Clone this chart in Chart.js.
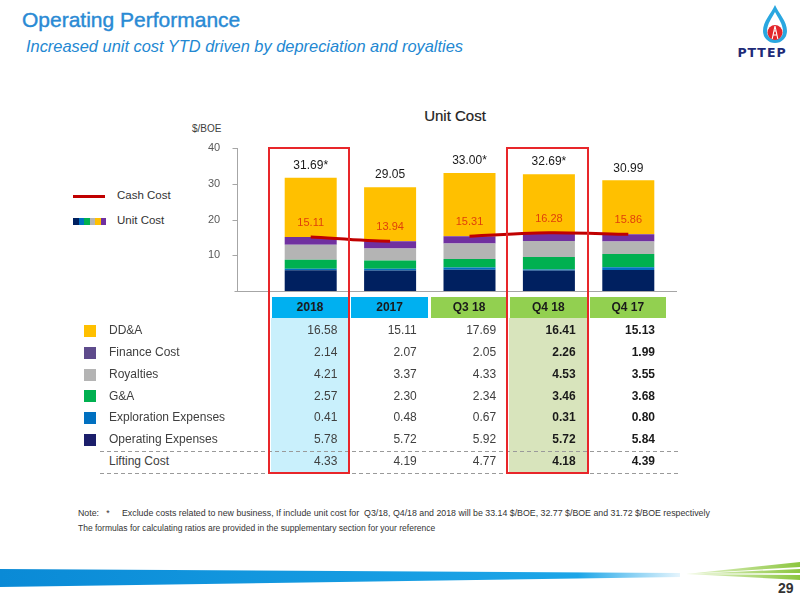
<!DOCTYPE html>
<html lang="en">
<head>
<meta charset="UTF-8">
<title>Operating Performance - Unit Cost</title>
<script src="https://cdn.jsdelivr.net/npm/chart.js"></script>
<style>
  html, body { margin: 0; padding: 0; background: #fff; }
  body { width: 800px; height: 600px; position: relative; overflow: hidden;
         font-family: "Liberation Sans", Arial, sans-serif; }
  .abs { position: absolute; }
  #title { left: 22px; top: 8px; font-size: 21px; color: #2A8AD4; -webkit-text-stroke: 0.4px #2A8AD4; white-space: nowrap; }
  #subtitle { left: 26px; top: 37px; font-size: 16.4px; font-style: italic; color: #2388D2; white-space: nowrap; }
  #brand { left: 730px; top: 45px; width: 64px; text-align: center; font-family: "DejaVu Sans", sans-serif;
           font-weight: bold; font-size: 12.5px; letter-spacing: 1px; color: #1E2A78; }
  #chartTitle { left: 380px; width: 150px; top: 107px; text-align: center; font-size: 15px; color: #222; -webkit-text-stroke: 0.2px #222; }
  #unitLabel { left: 192px; top: 123px; font-size: 10px; color: #404040; }
  #unitCostChart { position: absolute; left: 180px; top: 100px; }
  .legend-text { font-size: 11.5px; color: #333; white-space: nowrap; }
  .hdr { font-size: 12px; font-weight: bold; color: #1a1a1a; text-align: center; }
  .cell { font-size: 12px; color: #404040; text-align: right; white-space: nowrap; }
  .rowlabel { font-size: 12px; color: #404040; white-space: nowrap; }
  .dash { height: 1px; background: repeating-linear-gradient(to right, #9a9a9a 0 4px, transparent 4px 7px); }
  .redbox { border: 2px solid #E8262A; box-sizing: border-box; }
  .note { left: 78px; font-size: 8.5px; color: #333; white-space: pre; }
  #pageNo { left: 778px; top: 580px; font-size: 14px; font-weight: bold; color: #333; }
</style>
</head>
<body>
  <div id="title" class="abs">Operating Performance</div>
  <div id="subtitle" class="abs">Increased unit cost YTD driven by depreciation and royalties</div>

  <svg class="abs" style="left:730px;top:0" width="70" height="46">
    <path d="M45 5 C41 14 33 21 33 31 A12 12 0 0 0 57 31 C57 21 49 14 45 5 Z" fill="#2AA7E0"/>
    <path d="M45 12 C42 18 37 24 37 31.5 A8 8 0 0 0 53 31.5 C53 24 48 18 45 12 Z" fill="#fff"/>
    <circle cx="45" cy="32.5" r="7.5" fill="#E3262B"/>
    <path d="M42.2 39 L45 26 L47.8 39 M43.2 35 H46.8 M43.9 31 H46.1" stroke="#fff" stroke-width="1.1" fill="none"/>
  </svg>
  <div id="brand" class="abs">PTTEP</div>

  <div id="chartTitle" class="abs">Unit Cost</div>
  <div id="unitLabel" class="abs">$/BOE</div>

  <div class="abs" style="left:73px;top:195px;width:32px;height:3px;background:#C00000"></div>
  <div class="abs legend-text" style="left:117px;top:189px">Cash Cost</div>
  <div id="unitSwatch" class="abs" style="left:73px;top:218px;height:7px;display:flex"></div>
  <div class="abs legend-text" style="left:117px;top:214px">Unit Cost</div>

  <canvas id="unitCostChart" width="510" height="200"></canvas>
  <div id="table"></div>

  <div class="abs note" style="top:508px;font-size:8.8px">Note:   *     Exclude costs related to new business, If include unit cost for  Q3/18, Q4/18 and 2018 will be 33.14 $/BOE, 32.77 $/BOE and 31.72 $/BOE respectively</div>
  <div class="abs note" style="top:523px">The formulas for calculating ratios are provided in the supplementary section for your reference</div>

  <svg class="abs" style="left:0;top:555px" width="800" height="45">
    <defs>
      <linearGradient id="blueBand" x1="0" x2="1" y1="0" y2="0">
        <stop offset="0" stop-color="#0A8AD6"/>
        <stop offset="0.85" stop-color="#1DA6E8"/>
        <stop offset="1" stop-color="#E6F5FD"/>
      </linearGradient>
      <linearGradient id="greenBand" x1="0" x2="1" y1="0" y2="0">
        <stop offset="0" stop-color="#EAF6D5"/>
        <stop offset="1" stop-color="#8CC63F"/>
      </linearGradient>
    </defs>
    <polygon points="0,14 680,18 680,22 0,32" fill="url(#blueBand)"/>
    <polygon points="686,19 800,7 800,12" fill="url(#greenBand)"/>
    <polygon points="686,19 800,14 800,18" fill="url(#greenBand)"/>
    <polygon points="686,19 800,20 800,25" fill="url(#greenBand)"/>
  </svg>
  <div id="pageNo" class="abs">29</div>

<script>
  // ---- data ----
  const categories = ['2018', '2017', 'Q3 18', 'Q4 18', 'Q4 17'];
  const ddaValues = [16.58, 15.11, 17.69, 16.41, 15.13];
  const financeCost = [2.14, 2.07, 2.05, 2.26, 1.99];
  const royalties = [4.21, 3.37, 4.33, 4.53, 3.55];
  const gnaValues = [2.57, 2.30, 2.34, 3.46, 3.68];
  const explorationExp = [0.41, 0.48, 0.67, 0.31, 0.80];
  const operatingExp = [5.78, 5.72, 5.92, 5.72, 5.84];
  const liftingCost = [4.33, 4.19, 4.77, 4.18, 4.39];
  const cashCost = [15.11, 13.94, 15.31, 16.28, 15.86];
  const excludesNewBusiness = [true, false, true, true, false];
  const yTicks = [10, 20, 30, 40];

  // ---- styling ----
  const colors = {
    dda: '#FFC000', finance: '#7030A0', royalties: '#B4B4B4',
    gna: '#00B050', exploration: '#0070C0', operating: '#002060', cash: '#C00000'
  };
  const fontFamily = '"Liberation Sans", Arial, sans-serif';
  Chart.defaults.font.family = fontFamily;

  // bottom to top
  const stackSeries = [
    { label: 'Operating Expenses', data: operatingExp, color: colors.operating },
    { label: 'Exploration Expenses', data: explorationExp, color: colors.exploration },
    { label: 'G&A', data: gnaValues, color: colors.gna },
    { label: 'Royalties', data: royalties, color: colors.royalties },
    { label: 'Finance Cost', data: financeCost, color: colors.finance },
    { label: 'DD&A', data: ddaValues, color: colors.dda }
  ];

  const barLabels = {
    id: 'barLabels',
    afterDatasetsDraw(chart) {
      const { ctx, chartArea, scales: { x, y } } = chart;
      const axisX = Math.round(chartArea.left - 34) + 0.5;
      const base = Math.round(y.getPixelForValue(0)) + 0.5;
      ctx.save();
      // axes
      ctx.strokeStyle = '#A6A6A6';
      ctx.lineWidth = 1;
      ctx.beginPath();
      ctx.moveTo(axisX, y.getPixelForValue(y.max));
      ctx.lineTo(axisX, base);
      yTicks.forEach(v => {
        const py = Math.round(y.getPixelForValue(v)) + 0.5;
        ctx.moveTo(axisX - 5, py);
        ctx.lineTo(axisX, py);
      });
      ctx.moveTo(axisX - 3, base);
      ctx.lineTo(chartArea.right + 9, base);
      ctx.stroke();

      ctx.textAlign = 'center';
      ctx.textBaseline = 'middle';
      categories.forEach((c, i) => {
        const cx = x.getPixelForValue(i);
        const total = stackSeries.reduce((s, d) => s + d.data[i], 0);
        ctx.fillStyle = '#1a1a1a';
        ctx.font = '12px ' + fontFamily;
        ctx.fillText(total.toFixed(2) + (excludesNewBusiness[i] ? '*' : ''), cx, y.getPixelForValue(total) - 12);
        ctx.fillStyle = '#E0400A';
        ctx.font = '11px ' + fontFamily;
        ctx.fillText(cashCost[i].toFixed(2), cx, y.getPixelForValue(cashCost[i]) - 14);
      });
      ctx.restore();
    }
  };

  const chart = new Chart(document.getElementById('unitCostChart'), {
    type: 'bar',
    data: {
      labels: categories,
      datasets: [
        ...stackSeries.map(s => ({
          type: 'bar', label: s.label, data: s.data, backgroundColor: s.color,
          stack: 'unit', order: 1, barPercentage: 0.655, categoryPercentage: 1
        })),
        {
          type: 'line', label: 'Cash Cost', data: cashCost, stack: 'cash', order: 0,
          borderColor: colors.cash, borderWidth: 3, pointRadius: 0, tension: 0.3,
          segment: { borderColor: c => c.p0DataIndex === 1 ? 'rgba(0,0,0,0)' : colors.cash }
        }
      ]
    },
    options: {
      responsive: false,
      animation: false,
      layout: { padding: { top: 48, right: 22, bottom: 9, left: 28 } },
      plugins: { legend: { display: false }, tooltip: { enabled: false } },
      scales: {
        x: { display: false, stacked: true },
        y: {
          stacked: true, min: 0, max: 40,
          grid: { display: false, drawTicks: false },
          border: { display: false },
          afterBuildTicks: s => { s.ticks = yTicks.map(v => ({ value: v })); },
          afterFit: s => { s.width = 63; s.paddingTop = 0; s.paddingBottom = 0; },
          ticks: { padding: 0, crossAlign: 'far', color: '#595959', font: { size: 11 } }
        }
      }
    },
    plugins: [barLabels]
  });

  // unit cost swatch in the legend
  const swatch = document.getElementById('unitSwatch');
  [colors.operating, colors.exploration, colors.gna, colors.royalties, colors.dda, colors.finance].forEach(c => {
    const d = document.createElement('div');
    d.style.cssText = 'width:5.5px;height:7px;background:' + c;
    swatch.appendChild(d);
  });

  // ---- table under the chart, columns follow the chart's x scale ----
  const table = document.getElementById('table');
  const canvasLeft = 180;
  const xs = chart.scales.x;
  const colW = (xs.right - xs.left) / categories.length;
  const colLeft = i => canvasLeft + xs.left + i * colW;
  const headerTop = 297, headerH = 21, rowTop = 320, rowH = 21.85;
  const highlight = { 0: '#C9F0FC', 3: '#D8E4BC' };
  const boldCols = [3, 4];

  function add(cls, css, text) {
    const d = document.createElement('div');
    d.className = 'abs ' + cls;
    d.style.cssText = css;
    if (text !== undefined) d.textContent = text;
    table.appendChild(d);
    return d;
  }

  const tableRows = [
    { label: 'DD&A', values: ddaValues, color: colors.dda },
    { label: 'Finance Cost', values: financeCost, color: '#5E4B8C' },
    { label: 'Royalties', values: royalties, color: colors.royalties },
    { label: 'G&A', values: gnaValues, color: colors.gna },
    { label: 'Exploration Expenses', values: explorationExp, color: colors.exploration },
    { label: 'Operating Expenses', values: operatingExp, color: '#1B1F6B' },
    { label: 'Lifting Cost', values: liftingCost, color: null }
  ];
  const bodyBottom = rowTop + tableRows.length * rowH;

  Object.keys(highlight).forEach(i => {
    add('', `left:${colLeft(+i)}px;top:${headerTop + headerH}px;width:${colW - 1}px;height:${bodyBottom - headerTop - headerH}px;background:${highlight[i]}`);
  });

  categories.forEach((c, i) => {
    add('hdr', `left:${colLeft(i) + 1}px;top:${headerTop}px;width:${colW - 3}px;height:${headerH}px;line-height:${headerH}px;background:${i < 2 ? '#00B0F0' : '#92D050'}`, c);
  });

  tableRows.forEach((r, ri) => {
    const top = rowTop + ri * rowH;
    if (r.color) add('', `left:84px;top:${top + rowH / 2 - 6}px;width:12px;height:12px;background:${r.color}`);
    add('rowlabel', `left:109px;top:${top}px;height:${rowH}px;line-height:${rowH}px`, r.label);
    r.values.forEach((v, i) => {
      const bold = boldCols.includes(i);
      add('cell', `left:${colLeft(i)}px;top:${top}px;width:${colW - 13}px;height:${rowH}px;line-height:${rowH}px;` +
        (bold ? 'font-weight:bold;color:#1a1a1a;' : ''), v.toFixed(2));
    });
  });

  add('dash', `left:100px;top:${rowTop + 6 * rowH}px;width:580px`);
  add('dash', `left:100px;top:${bodyBottom}px;width:580px`);

  // red highlight boxes around 2018 and Q4 18
  [0, 3].forEach(i => {
    add('redbox', `left:${colLeft(i) - 3}px;top:147px;width:${colW + 3}px;height:${bodyBottom - 147 + 1}px`);
  });
</script>
</body>
</html>
